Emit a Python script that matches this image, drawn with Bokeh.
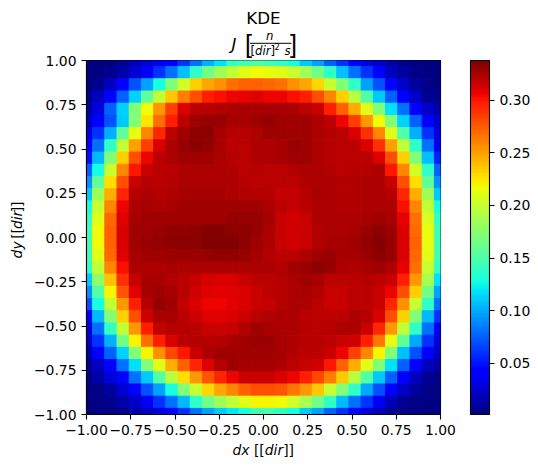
import numpy as np
from bokeh.embed import file_html
from bokeh.resources import INLINE
from bokeh.layouts import column, row
from bokeh.plotting import figure
from bokeh.models import (ColumnDataSource, LinearColorMapper, ColorBar, FixedTicker,
                          Range1d, Label)

x_ticks = [-1.0, -0.75, -0.5, -0.25, 0.0, 0.25, 0.5, 0.75, 1.0]
x_tick_labels = ["\u22121.00", "\u22120.75", "\u22120.50", "\u22120.25", "0.00", "0.25", "0.50", "0.75", "1.00"]
cb_ticks = [0.05, 0.10, 0.15, 0.20, 0.25, 0.30]
cb_tick_labels = ["0.05", "0.10", "0.15", "0.20", "0.25", "0.30"]
v_min = 0.0015
v_max = 0.3375

# KDE values in thousandths, top row (dy=1) first, left column (dx=-1) first
r00 = [2,2,3,8,18,25,35,39,59,80,101,117,138,144,151,144,138,127,109,96,75,59,39,30,23,14,6,3,2,2]
r01 = [2,2,6,14,25,39,59,80,106,138,164,183,196,209,216,212,209,199,183,164,138,106,80,59,39,21,11,5,3,2]
r02 = [2,6,21,39,70,96,127,170,203,231,246,254,265,271,271,268,265,254,246,229,199,170,138,96,70,39,23,11,5,3]
r03 = [6,21,39,75,112,157,196,234,260,277,294,299,303,305,307,303,303,299,294,277,257,231,193,151,109,75,39,23,8,6]
r04 = [11,30,75,112,170,216,251,282,308,317,319,320,321,323,323,323,323,322,318,313,294,271,243,209,170,117,80,39,23,14]
r05 = [21,39,70,109,170,224,265,294,317,326,328,328,323,323,326,328,326,325,325,321,317,303,282,251,216,170,112,75,39,23]
r06 = [30,59,101,157,212,257,291,317,326,330,330,323,319,319,322,326,325,325,325,322,319,317,308,288,257,209,151,101,59,30]
r07 = [39,80,138,196,248,282,308,321,328,331,329,323,317,317,321,322,323,327,325,322,319,318,317,308,288,248,196,138,80,35]
r08 = [49,104,170,231,277,303,317,321,326,326,326,321,319,317,320,321,323,326,326,322,319,317,317,318,307,277,231,170,106,54]
r09 = [75,127,199,257,297,313,317,319,322,322,322,322,320,318,319,317,318,320,321,322,320,318,319,319,321,297,257,203,138,75]
r10 = [91,157,226,277,313,319,318,319,322,322,322,322,321,319,318,318,317,317,320,322,321,320,320,322,322,313,277,226,157,91]
r11 = [109,183,243,291,319,321,319,320,323,323,323,323,321,320,320,319,315,315,319,323,322,320,320,321,321,319,291,243,183,109]
r12 = [127,199,257,303,321,323,322,323,325,325,325,325,326,326,326,322,317,315,318,321,321,320,320,321,321,321,299,257,196,127]
r13 = [138,209,268,307,323,325,325,326,326,326,326,326,328,328,328,323,314,311,314,321,322,322,322,323,325,323,305,265,206,138]
r14 = [144,216,271,309,325,326,327,329,329,330,333,333,331,331,328,321,313,311,314,320,322,322,323,327,330,327,308,268,212,144]
r15 = [144,216,271,309,325,327,328,330,330,330,334,335,335,331,326,321,314,311,314,320,323,323,325,329,333,328,308,271,212,144]
r16 = [144,209,268,307,323,326,326,327,327,327,328,329,329,328,323,320,318,317,321,326,327,323,323,327,330,328,308,268,209,144]
r17 = [138,196,257,299,321,322,322,323,322,322,321,321,321,321,321,321,320,325,327,330,328,321,320,323,325,322,305,265,199,138]
r18 = [109,177,237,288,314,323,323,320,317,313,310,308,308,313,317,318,319,322,326,323,318,317,318,319,318,313,294,251,186,117]
r19 = [91,151,218,274,307,323,326,323,317,311,307,306,307,309,314,317,319,322,323,320,314,313,317,317,313,303,277,231,164,96]
r20 = [70,127,196,251,294,319,328,325,315,308,303,303,306,309,314,315,319,322,321,317,313,314,317,317,313,291,254,199,138,80]
r21 = [39,104,170,231,277,312,323,323,317,312,307,307,308,314,318,320,321,321,319,318,317,318,322,319,308,277,231,170,104,59]
r22 = [28,80,138,196,251,294,315,319,319,317,313,313,315,320,325,323,322,321,319,318,319,321,321,314,291,251,196,138,80,35]
r23 = [23,59,101,164,218,265,294,308,317,319,319,319,323,326,327,327,323,320,319,319,317,313,311,294,263,212,157,99,59,28]
r24 = [14,39,75,112,170,218,254,280,297,313,322,325,326,326,326,326,323,320,318,318,313,303,282,257,218,170,106,70,39,21]
r25 = [8,21,39,80,117,170,209,243,271,291,307,319,325,323,323,323,321,317,314,311,297,271,243,209,170,117,75,39,21,11]
r26 = [5,14,28,39,80,109,151,193,226,251,274,291,303,313,313,313,308,303,294,280,260,234,193,151,109,75,39,21,7,5]
r27 = [2,5,11,25,39,70,96,127,170,199,229,246,257,271,277,277,274,263,251,234,199,170,138,99,70,39,23,11,5,3]
r28 = [2,3,6,14,23,35,59,80,104,138,164,183,196,209,218,218,216,203,186,164,138,104,80,59,35,18,8,5,3,2]
r29 = [2,2,3,6,14,21,30,39,59,80,96,109,120,127,144,144,138,127,109,96,75,59,39,28,18,8,5,3,2,2]
rows = [r00,r01,r02,r03,r04,r05,r06,r07,r08,r09,r10,r11,r12,r13,r14,r15,r16,r17,r18,r19,
        r20,r21,r22,r23,r24,r25,r26,r27,r28,r29]

# matplotlib's jet
def jet(t):
    def seg(pts):
        return np.interp(t, [a for a, _ in pts], [b for _, b in pts])
    r = seg([(0,0),(.35,0),(.66,1),(.89,1),(1,.5)])
    g = seg([(0,0),(.125,0),(.375,1),(.64,1),(.91,0),(1,0)])
    b = seg([(0,.5),(.11,1),(.34,1),(.65,0),(1,0)])
    return "#%02x%02x%02x" % (int(r*255+.5), int(g*255+.5), int(b*255+.5))
palette = [jet(i/255) for i in range(256)]
mapper = LinearColorMapper(palette=palette, low=v_min, high=v_max)

z = np.array(rows, dtype=float) / 1000 * 1.007
n = z.shape[0]
centers = np.linspace(-1, 1, n)
half = (centers[1] - centers[0]) / 2
X, Y = np.meshgrid(centers, centers[::-1])
src = ColumnDataSource(dict(
    left=np.clip(X.ravel() - half, -1, 1), right=np.clip(X.ravel() + half, -1, 1),
    bottom=np.clip(Y.ravel() - half, -1, 1), top=np.clip(Y.ravel() + half, -1, 1),
    z=z.ravel()))

TOP_H, LEFT_W, MAIN_TOP, MAIN_BOTTOM, BOTTOM_H, RIGHT_B = 60, 30, 10, 26, 22, 90
FW, FH = 354, 354
TOTAL_W = 86 + FW + RIGHT_B

p = figure(frame_width=FW, frame_height=FH, output_backend="svg", toolbar_location=None,
           x_range=Range1d(-1, 1), y_range=Range1d(-1, 1),
           min_border_left=86 - LEFT_W, min_border_top=MAIN_TOP,
           min_border_bottom=MAIN_BOTTOM, min_border_right=RIGHT_B,
           background_fill_color="white", border_fill_color=None)
p.quad(left="left", right="right", bottom="bottom", top="top", source=src,
       fill_color={"field": "z", "transform": mapper},
       line_color={"field": "z", "transform": mapper}, line_width=1.0)
p.grid.visible = False
p.outline_line_color = "black"
p.outline_line_width = 1.1
p.outline_line_alpha = 1

for ax in (p.xaxis[0], p.yaxis[0]):
    ax.ticker = FixedTicker(ticks=x_ticks)
    ax.major_label_overrides = dict(zip(x_ticks, x_tick_labels))
    ax.major_label_text_font = "DejaVu Sans"
    ax.major_label_text_font_size = "13.9px"
    ax.major_label_text_color = "black"
    ax.major_label_standoff = 5
    ax.major_tick_in = 0
    ax.major_tick_out = 5
    ax.major_tick_line_color = "black"
    ax.major_tick_line_width = 1.1
    ax.minor_tick_line_color = None
    ax.axis_line_color = "black"
    ax.axis_line_width = 1.1

cb = ColorBar(color_mapper=mapper, ticker=FixedTicker(ticks=cb_ticks),
              major_label_overrides=dict(zip(cb_ticks, cb_tick_labels)),
              width=19, height=FH, padding=0, margin=0, location=(30, 0),
              background_fill_color=None,
              bar_line_color="black", bar_line_width=1.1,
              major_tick_in=0, major_tick_out=5, major_tick_line_color="black", major_tick_line_width=1.1,
              minor_tick_line_color=None,
              major_label_text_font="DejaVu Sans", major_label_text_font_size="13.9px",
              major_label_text_color="black", label_standoff=5)
p.add_layout(cb, "right")

# Text strips around the plot: their data coordinates are page pixels
def strip(width, height, x0, y0):
    s = figure(width=width, height=height, output_backend="svg", toolbar_location=None,
               x_range=Range1d(x0, x0 + width), y_range=Range1d(y0 + height, y0),
               min_border=0, background_fill_color=None, border_fill_color=None)
    s.axis.visible = False
    s.grid.visible = False
    s.outline_line_color = None
    return s

BASE = 0.37  # Label draws its alphabetic baseline this many em below the anchor

def lab(s, text, px, py, size, style="normal", align="left", angle=0.0, font="DejaVu Sans"):
    shift = BASE * size
    xa, ya = (px - shift, py) if angle else (px, py - shift)
    s.add_layout(Label(x=xa, y=ya, text=text, text_font=font,
                       text_font_size=f"{size}px", text_font_style=style, text_color="black",
                       text_align=align, text_baseline="alphabetic", angle=angle))

top = strip(TOTAL_W, TOP_H, 0, 0)
lab(top, "KDE", 263, 24, 16.7, align="center")
lab(top, "J", 231, 50, 16.7, style="italic")
lab(top, "[", 244.5, 53, 25, font="Liberation Sans")
lab(top, "n", 265.5, 40, 11.7, style="italic")
lab(top, "[", 250, 54.5, 11.7)
lab(top, "dir", 254.5, 54.5, 11.7, style="italic")
lab(top, "]", 270, 54.5, 11.7)
lab(top, "2", 274, 49, 8.3)
lab(top, "s", 284, 54.5, 11.7, style="italic")
lab(top, "]", 289.5, 53, 25, font="Liberation Sans")
top.segment(x0=[249.5], y0=[42.8], x1=[291], y1=[42.8], line_color="black", line_width=1)

left = strip(LEFT_W, FH + MAIN_TOP + MAIN_BOTTOM, 0, 60 - MAIN_TOP)
rot = np.pi / 2
lab(left, "dy", 21.5, 268, 13.9, style="italic", angle=rot)
lab(left, "[[", 21.5, 246.5, 13.9, angle=rot)
lab(left, "dir", 21.5, 235.7, 13.9, style="italic", angle=rot)
lab(left, "]]", 21.5, 217.3, 13.9, angle=rot)

bottom = strip(TOTAL_W, BOTTOM_H, 0, 60 + FH + MAIN_BOTTOM)
lab(bottom, "dx", 232, 455, 13.9, style="italic")
lab(bottom, "[[", 253.4, 455, 13.9)
lab(bottom, "dir", 264.3, 455, 13.9, style="italic")
lab(bottom, "]]", 282.7, 455, 13.9)

middle = row(left, p, spacing=0, margin=(-MAIN_TOP, 0, 0, 0))
page = column(top, middle, bottom, spacing=0)
open("out.html", "w").write(file_html(page, INLINE))
